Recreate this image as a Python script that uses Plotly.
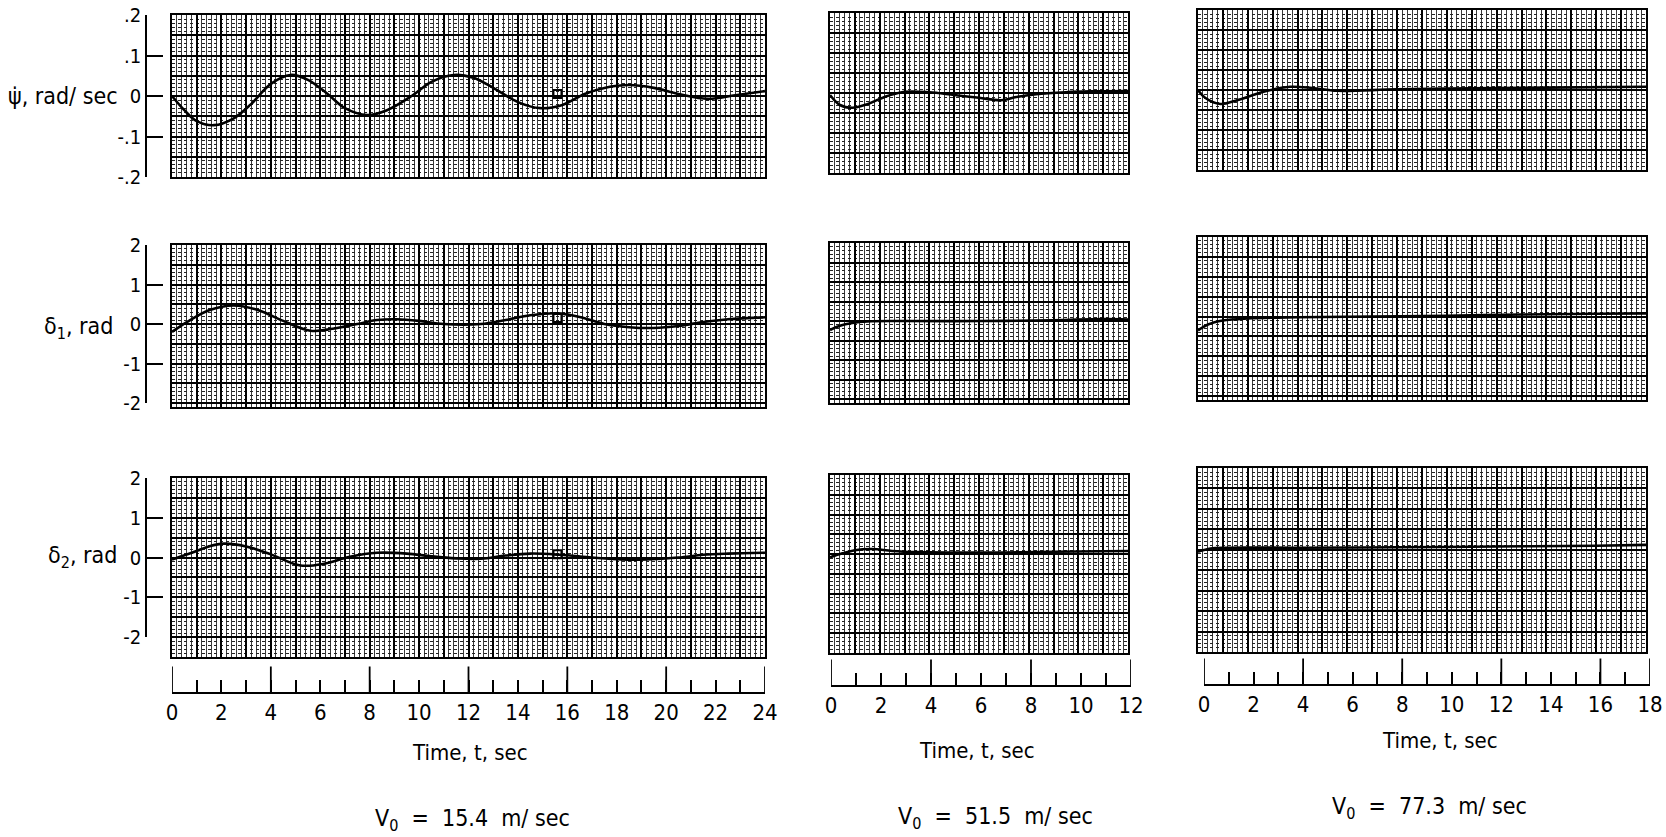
import plotly.graph_objects as go

W, H = 1666, 837

# ---------------- data ----------------
# Column 1: V0 = 15.4 m/sec, 0..24 s
t_psi_1 = [0, 0.5, 1.0, 1.7, 2.5, 3.2, 4.0, 4.8, 5.5, 6.3, 7.0, 7.9, 8.7, 9.7, 10.5, 11.4, 12.2, 13.0,
           14.0, 14.9, 15.8, 16.7, 17.5, 18.5, 19.5, 20.5, 21.7, 22.8, 24.0]
psi_1 = [0, -0.035, -0.062, -0.072, -0.055, -0.02, 0.03, 0.052, 0.04, 0.005, -0.03, -0.047, -0.035, 0.0,
         0.035, 0.052, 0.045, 0.02, -0.015, -0.030, -0.022, 0.005, 0.02, 0.027, 0.02, 0.005, -0.007, 0.002, 0.012]
t_d1_1 = [0, 0.6, 1.5, 2.5, 3.5, 4.5, 5.6, 6.5, 7.5, 8.3, 9.1, 10.0, 11.0, 12.5, 13.5, 14.5, 15.6, 16.5,
          17.5, 18.5, 19.5, 20.5, 21.5, 22.5, 24.0]
d1_1 = [-0.2, 0.05, 0.35, 0.47, 0.35, 0.08, -0.17, -0.12, 0.0, 0.1, 0.12, 0.08, 0.0, 0.0, 0.1, 0.22, 0.27,
        0.18, 0.0, -0.08, -0.1, -0.05, 0.05, 0.12, 0.17]
t_d2_1 = [0, 0.8, 1.5, 2.1, 3.0, 4.0, 5.2, 6.2, 7.2, 8.3, 9.5, 10.5, 11.5, 12.5, 13.5, 14.5, 15.7, 17.0,
          18.2, 19.2, 20.5, 21.5, 22.5, 24.0]
d2_1 = [-0.05, 0.12, 0.28, 0.35, 0.28, 0.08, -0.2, -0.15, 0.02, 0.12, 0.1, 0.03, -0.02, -0.03, 0.05, 0.1,
        0.07, 0.0, -0.05, -0.05, 0.0, 0.07, 0.1, 0.12]

# Column 2: V0 = 51.5 m/sec, 0..12 s
t_psi_2 = [0, 0.4, 0.9, 1.5, 2.2, 3.0, 4.0, 5.0, 6.0, 6.9, 7.5, 8.3, 9.5, 10.5, 12.0]
psi_2 = [-0.005, -0.03, -0.037, -0.028, -0.01, 0.003, 0.002, -0.005, -0.012, -0.018, -0.01, -0.003,
         0.002, 0.004, 0.005]
t_d1_2 = [0, 0.4, 0.9, 1.5, 3.0, 6.0, 9.0, 11.0, 12.0]
d1_2 = [-0.23, -0.12, -0.05, -0.01, 0.0, 0.0, 0.02, 0.05, 0.04]
t_d2_2 = [0, 0.5, 1.0, 1.7, 2.5, 3.5, 5.0, 7.0, 9.0, 12.0]
d2_2 = [-0.08, 0.02, 0.1, 0.13, 0.08, 0.05, 0.04, 0.04, 0.06, 0.08]

# Column 3: V0 = 77.3 m/sec, 0..18 s
t_psi_3 = [0, 0.3, 0.9, 1.6, 2.6, 3.7, 4.6, 5.6, 8.0, 11.0, 14.0, 18.0]
psi_3 = [0.0, -0.02, -0.035, -0.025, -0.005, 0.008, 0.005, -0.002, 0.002, 0.004, 0.006, 0.008]
t_d1_3 = [0, 0.4, 1.0, 2.0, 4.0, 7.0, 10.0, 13.0, 16.0, 18.0]
d1_3 = [-0.35, -0.2, -0.1, -0.05, -0.02, 0.0, 0.02, 0.05, 0.07, 0.08]
t_d2_3 = [0, 0.5, 1.2, 4.0, 8.0, 12.0, 16.0, 18.0]
d2_3 = [-0.05, 0.03, 0.05, 0.05, 0.06, 0.08, 0.1, 0.12]

# timing marks on the 15.4 m/sec record
event_t = 15.6
event_y = [0.005, 0.15, 0.08]

time_max = [24, 12, 18]
time_major_ticks = [[0, 4, 8, 12, 16, 20, 24], [0, 4, 8, 12], [0, 4, 8, 12, 16, 18]]
speed_labels = ["V<sub>0</sub>  =  15.4  m/ sec", "V<sub>0</sub>  =  51.5  m/ sec", "V<sub>0</sub>  =  77.3  m/ sec"]
row_titles = ["\u03c8\u0307, rad/ sec", "\u03b4<sub>1</sub>, rad", "\u03b4<sub>2</sub>, rad"]
row_tickvals = [[-0.2, -0.1, 0, 0.1, 0.2], [-2, -1, 0, 1, 2], [-2, -1, 0, 1, 2]]
row_ticktext = [["-.2", "-.1", "0", ".1", ".2"], ["-2", "-1", "0", "1", "2"], ["-2", "-1", "0", "1", "2"]]

series = [
    [(t_psi_1, psi_1), (t_psi_2, psi_2), (t_psi_3, psi_3)],
    [(t_d1_1, d1_1), (t_d1_2, d1_2), (t_d1_3, d1_3)],
    [(t_d2_1, d2_1), (t_d2_2, d2_2), (t_d2_3, d2_3)],
]

# ---------------- layout geometry (pixels) ----------------
FONT = "DejaVu Sans Condensed, Liberation Sans Narrow, Arial Narrow, sans-serif"
grid_x = [(172, 765), (830, 1128), (1198, 1646)]
grid_y = [[(15, 177), (13, 173), (10, 170)],
          [(245, 407), (243, 403), (237, 400)],
          [(478, 657), (475, 653), (468, 652)]]
row_range = [[-0.2, 0.2], [-2.1, 2.0], [-2.5, 2.0]]
row_major = [0.05, 0.5, 0.5]
row_minor = [0.01, 0.1, 0.1]
bracket_y = [(15, 177), (245, 403), (478, 637)]
bracket_range = [[-0.2, 0.2], [-2, 2], [-2, 2]]
title_pos = [(120, 96), (115, 328), (119, 557)]
time_x = [(172, 765), (831, 1131), (1204, 1650)]
time_base = [692, 685, 684]
time_title_pos = [(470, 752), (977, 750), (1440, 740)]
speed_pos = [(472, 820), (995, 818), (1429, 808)]


def xd(a, b):
    return [a / W, b / W]


def yd(top, bottom):
    return [1 - bottom / H, 1 - top / H]


fig = go.Figure()
layout = {}

for r in range(3):
    for c in range(3):
        n = r * 3 + c + 1
        t, v = series[r][c]
        fig.add_trace(go.Scatter(x=t, y=v, xaxis=f"x{n}", yaxis=f"y{n}", mode="lines",
                                 line=dict(color="black", width=2.6, shape="spline", smoothing=1.0),
                                 showlegend=False, hoverinfo="skip"))
        if c == 0:
            fig.add_trace(go.Scatter(x=[event_t], y=[event_y[r]], xaxis=f"x{n}", yaxis=f"y{n}",
                                     mode="markers",
                                     marker=dict(symbol="square-open", size=8, color="black",
                                                 line=dict(width=2, color="black")),
                                     showlegend=False, hoverinfo="skip"))
        layout[f"xaxis{n}"] = dict(
            domain=xd(*grid_x[c]), anchor=f"y{n}", range=[0, time_max[c]], automargin=False,
            showticklabels=False, ticks="", zeroline=False,
            showgrid=True, dtick=1, tick0=0, gridcolor="black", gridwidth=1.6,
            minor=dict(dtick=0.2, tick0=0, showgrid=True, gridcolor="#3a3a3a", gridwidth=1),
            showline=True, mirror=True, linecolor="black", linewidth=1.8,
        )
        layout[f"yaxis{n}"] = dict(
            domain=yd(*grid_y[r][c]), anchor=f"x{n}", range=row_range[r], automargin=False,
            showticklabels=False, ticks="", zeroline=False,
            showgrid=True, dtick=row_major[r], tick0=0, gridcolor="black", gridwidth=1.6,
            minor=dict(dtick=row_minor[r], tick0=0, showgrid=True, gridcolor="#222222",
                       gridwidth=1, griddash="dot"),
            showline=True, mirror=True, linecolor="black", linewidth=1.8,
        )

# time axes (one per column)
for c in range(3):
    n = 10 + c
    ticks_x, ticks_y = [], []
    for tt in time_major_ticks[c]:
        ticks_x += [tt, tt, None]
        ticks_y += [0, 0.85, None]
    fig.add_trace(go.Scatter(x=ticks_x, y=ticks_y, xaxis=f"x{n}", yaxis=f"y{n}", mode="lines",
                             line=dict(color="black", width=1.8), showlegend=False, hoverinfo="skip"))
    base = time_base[c]
    layout[f"xaxis{n}"] = dict(
        domain=xd(*time_x[c]), anchor=f"y{n}", range=[0, time_max[c]], automargin=False,
        showline=True, linecolor="black", linewidth=1.8, showgrid=False, zeroline=False,
        ticks="inside", ticklen=12, tickwidth=1.8, tickcolor="black",
        dtick=2, tick0=0, tickfont=dict(family=FONT, size=22, color="black"),
        minor=dict(dtick=1, tick0=0, ticks="inside", ticklen=12, tickwidth=1.8, tickcolor="black",
                   showgrid=False),
    )
    layout[f"yaxis{n}"] = dict(domain=yd(base - 30, base), anchor=f"x{n}", range=[0, 1],
                               visible=False, automargin=False)

# left y-axis brackets (one per row)
for r in range(3):
    n = 13 + r
    fig.add_trace(go.Scatter(x=[None], y=[None], xaxis=f"x{n}", yaxis=f"y{n}", mode="lines",
                             showlegend=False, hoverinfo="skip"))
    layout[f"xaxis{n}"] = dict(domain=xd(147, 168), anchor=f"y{n}", range=[0, 1], visible=False,
                               automargin=False)
    layout[f"yaxis{n}"] = dict(
        domain=yd(*bracket_y[r]), anchor=f"x{n}", range=bracket_range[r], side="left", automargin=False,
        showline=True, linecolor="black", linewidth=1.8, showgrid=False, zeroline=False,
        ticks="inside", ticklen=16, tickwidth=1.8, tickcolor="black",
        tickvals=row_tickvals[r], ticktext=row_ticktext[r],
        tickfont=dict(family=FONT, size=20, color="black"),
    )

annotations = []
for r in range(3):
    x, y = title_pos[r]
    annotations.append(dict(text=row_titles[r], x=x / W, y=1 - y / H, xref="paper", yref="paper",
                            xanchor="right", yanchor="middle", showarrow=False,
                            font=dict(family=FONT, size=23, color="black")))
for c in range(3):
    x, y = time_title_pos[c]
    annotations.append(dict(text="Time, t, sec", x=x / W, y=1 - y / H, xref="paper", yref="paper",
                            xanchor="center", yanchor="middle", showarrow=False,
                            font=dict(family=FONT, size=22, color="black")))
    x, y = speed_pos[c]
    annotations.append(dict(text=speed_labels[c], x=x / W, y=1 - y / H, xref="paper", yref="paper",
                            xanchor="center", yanchor="middle", showarrow=False,
                            font=dict(family=FONT, size=23, color="black")))

fig.update_layout(
    width=W, height=H, margin=dict(l=0, r=0, t=0, b=0, pad=0, autoexpand=False),
    paper_bgcolor="white", plot_bgcolor="white", showlegend=False,
    annotations=annotations, **layout,
)

fig.write_html(
    "out.html",
    config={"displayModeBar": False},
    post_script="document.body.style.margin='0px';document.body.style.padding='0px';"
                "document.documentElement.style.overflow='hidden';",
)
